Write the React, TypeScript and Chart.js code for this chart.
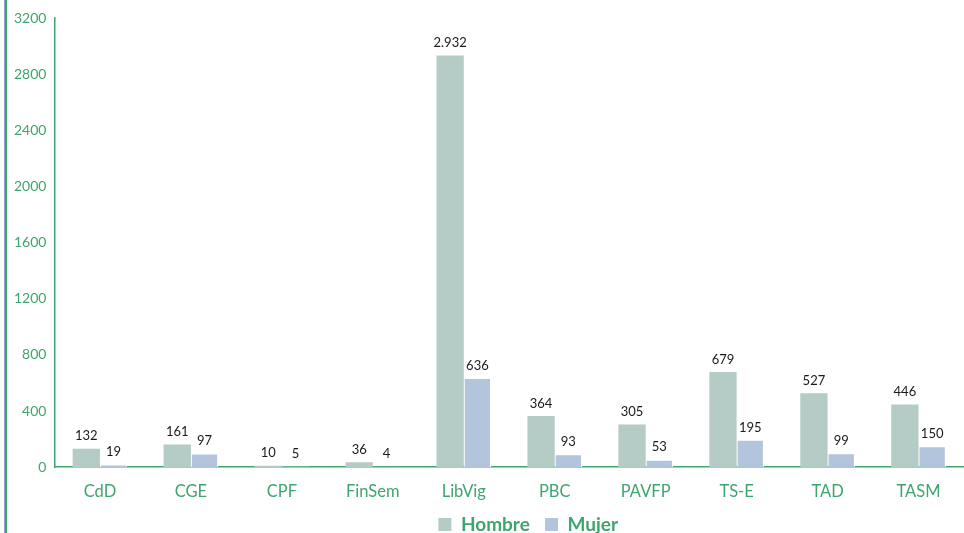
import React, { useEffect, useRef } from "react";
import { Chart, registerables } from "chart.js";

Chart.register(...registerables);

const categories = ["CdD", "CGE", "CPF", "FinSem", "LibVig", "PBC", "PAVFP", "TS-E", "TAD", "TASM"];
const hombre = [132, 161, 10, 36, 2932, 364, 305, 679, 527, 446];
const mujer = [19, 97, 5, 4, 636, 93, 53, 195, 99, 150];
const seriesNames = ["Hombre", "Mujer"];

const GREEN = "#3fa56e";

function fmt(v: number) {
  return v.toString().replace(/\B(?=(\d{3})+(?!\d))/g, ".");
}

const labelPlugin = {
  id: "valueLabels",
  afterLayout(chart: any) {
    if (chart.legend) {
      chart.legend.left += 19;
      chart.legend.right += 19;
    }
  },
  afterDatasetsDraw(chart: any) {
    const ctx = chart.ctx;
    ctx.save();
    ctx.font = "13px Lato";
    ctx.fillStyle = "#1a1a1a";
    ctx.textAlign = "center";
    ctx.textBaseline = "bottom";
    chart.data.datasets.forEach((ds: any, di: number) => {
      const meta = chart.getDatasetMeta(di);
      meta.data.forEach((bar: any, i: number) => {
        ctx.fillText(fmt(ds.data[i]), bar.x, bar.y - 6);
      });
    });
    ctx.restore();
  },
};

export default function App() {
  const ref = useRef<HTMLCanvasElement>(null);
  useEffect(() => {
    document.body.style.margin = "0";
    const chart = new Chart(ref.current!, {
      type: "bar",
      data: {
        labels: categories,
        datasets: [
          {
            label: seriesNames[0],
            data: hombre,
            backgroundColor: "#b4cbc6",
            borderWidth: 0,
            categoryPercentage: 0.6,
            barPercentage: 1,
          },
          {
            label: seriesNames[1],
            data: mujer,
            backgroundColor: "#b3c5dd",
            borderColor: "#ffffff",
            borderWidth: 1,
            categoryPercentage: 0.6,
            barPercentage: 1,
          },
        ],
      },
      options: {
        animation: false,
        responsive: false,
        layout: { padding: { left: 14, top: 18, right: 0, bottom: -11 } },
        plugins: {
          legend: {
            position: "bottom",
            fullSize: false,
            labels: {
              color: GREEN,
              font: { family: "Lato", size: 19, weight: "bold" },
              boxWidth: 13,
              boxHeight: 13,
              padding: 6,
              generateLabels: (c: any) => {
                const items = Chart.defaults.plugins.legend.labels.generateLabels(c);
                items.forEach((it: any, i: number) => {
                  it.lineWidth = 0;
                  if (i === 0) it.text = it.text + "  ";
                });
                return items;
              },
            },
          },
          tooltip: { enabled: false },
        },
        scales: {
          x: {
            grid: { display: false },
            border: { color: GREEN, width: 1.5 },
            ticks: { color: GREEN, font: { family: "Lato", size: 16.5 }, padding: 7 },
          },
          y: {
            min: 0,
            max: 3200,
            grid: { display: false },
            border: { color: GREEN, width: 1.5 },
            ticks: {
              stepSize: 400,
              color: GREEN,
              font: { family: "Lato", size: 14 },
              padding: 0,
              callback: (v: any) => String(v),
            },
          },
        },
      },
      plugins: [labelPlugin],
    });
    return () => chart.destroy();
  }, []);
  return (
    <div style={{ position: "relative", width: 964, height: 533 }}>
      <div style={{ position: "absolute", left: 4, top: 0, width: 1, height: 533, background: "#8fa3c8" }} />
      <div style={{ position: "absolute", left: 5, top: 0, width: 2, height: 533, background: GREEN }} />
      <canvas ref={ref} width={964} height={533} style={{ position: "absolute", left: 0, top: 0 }} />
    </div>
  );
}
